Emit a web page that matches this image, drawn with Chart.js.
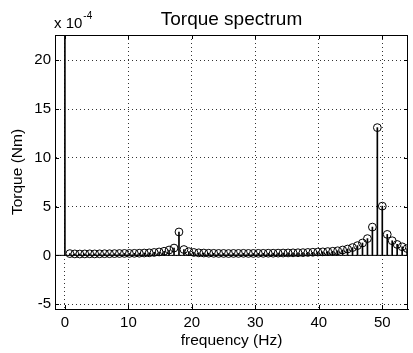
<!DOCTYPE html>
<html>
<head>
<meta charset="utf-8">
<script src="https://cdn.jsdelivr.net/npm/chart.js@4"></script>
<style>
  html, body { margin: 0; padding: 0; background: #fff; }
</style>
</head>
<body>
<canvas id="chart" width="413" height="353"></canvas>
<script>
// spectrum bins (Hz) and torque amplitude (x 1e-4 Nm)
const freqs = [
  0, 0.78, 1.56, 2.34, 3.13, 3.91, 4.69, 5.47, 6.25, 7.03,
  7.81, 8.59, 9.38, 10.16, 10.94, 11.72, 12.5, 13.28, 14.06, 14.84,
  15.63, 16.41, 17.19, 17.97, 18.75, 19.53, 20.31, 21.09, 21.88, 22.66,
  23.44, 24.22, 25, 25.78, 26.56, 27.34, 28.13, 28.91, 29.69, 30.47,
  31.25, 32.03, 32.81, 33.59, 34.38, 35.16, 35.94, 36.72, 37.5, 38.28,
  39.06, 39.84, 40.63, 41.41, 42.19, 42.97, 43.75, 44.53, 45.31, 46.09,
  46.88, 47.66, 48.44, 49.22, 50, 50.78, 51.56, 52.34, 53.13, 53.91
];
const torque = [
  60, 0.18, 0.15, 0.14, 0.15, 0.16, 0.15, 0.16, 0.17, 0.17,
  0.18, 0.19, 0.2, 0.2, 0.21, 0.22, 0.24, 0.26, 0.3, 0.35,
  0.42, 0.55, 0.75, 2.4, 0.6, 0.38, 0.3, 0.26, 0.24, 0.22,
  0.21, 0.2, 0.2, 0.19, 0.2, 0.2, 0.21, 0.2, 0.2, 0.21,
  0.21, 0.22, 0.22, 0.23, 0.24, 0.25, 0.26, 0.27, 0.28, 0.3,
  0.32, 0.34, 0.36, 0.39, 0.42, 0.47, 0.55, 0.65, 0.8, 1.0,
  1.27, 1.72, 2.9, 13.1, 5.05, 2.15, 1.5, 1.12, 0.88, 0.7
];

const xTicks = [0, 10, 20, 30, 40, 50];
const yTicks = [-5, 0, 5, 10, 15, 20];

const X_MIN = -1.56, X_MAX = 54.05;
const Y_MIN = -5.5, Y_MAX = 22.6;

const TITLE = "Torque spectrum";
const X_LABEL = "frequency (Hz)";
const Y_LABEL = "Torque (Nm)";
const EXP_BASE = "x 10";
const EXP_POW = "-4";

const FAMILY = '"Liberation Sans", Arial, Helvetica, sans-serif';

const points = freqs.map((f, i) => ({ x: f, y: torque[i] }));

// MATLAB style: box, inward ticks, title and exponent
const matlabAxes = {
  id: "matlabAxes",
  afterDraw(chart) {
    const { ctx, chartArea: ca, scales } = chart;
    ctx.save();
    ctx.strokeStyle = "#000";
    ctx.lineWidth = 1;
    ctx.beginPath();
    ctx.moveTo(ca.left, Math.round(ca.top) + 0.5);
    ctx.lineTo(ca.right, Math.round(ca.top) + 0.5);
    ctx.moveTo(Math.round(ca.right) - 0.5, ca.top);
    ctx.lineTo(Math.round(ca.right) - 0.5, ca.bottom);
    xTicks.forEach(v => {
      const px = Math.round(scales.x.getPixelForValue(v)) + 0.5;
      ctx.moveTo(px, ca.bottom); ctx.lineTo(px, ca.bottom - 4);
      ctx.moveTo(px, ca.top); ctx.lineTo(px, ca.top + 4);
    });
    yTicks.forEach(v => {
      const py = Math.round(scales.y.getPixelForValue(v)) + 0.5;
      ctx.moveTo(ca.left, py); ctx.lineTo(ca.left + 4, py);
      ctx.moveTo(ca.right, py); ctx.lineTo(ca.right - 4, py);
    });
    ctx.stroke();

    ctx.fillStyle = "#000";
    ctx.textBaseline = "alphabetic";
    ctx.font = "19px " + FAMILY;
    ctx.textAlign = "center";
    ctx.fillText(TITLE, (ca.left + ca.right) / 2, 25);

    ctx.textAlign = "left";
    ctx.font = "15px " + FAMILY;
    ctx.fillText(EXP_BASE, 54, 28);
    const w = ctx.measureText(EXP_BASE).width;
    ctx.font = "10px " + FAMILY;
    ctx.fillText(EXP_POW, 54 + w + 1, 19);
    ctx.restore();
  }
};

const tickFont = { family: FAMILY, size: 15 };
const labelFont = { family: FAMILY, size: 15.5 };
const gridStyle = { color: "rgba(0,0,0,0.8)", lineWidth: 1, drawTicks: false, offset: false };

new Chart(document.getElementById("chart"), {
  type: "scatter",
  data: {
    datasets: [
      {
        type: "scatter",
        data: points,
        pointStyle: "circle",
        pointRadius: 3.9,
        pointBorderWidth: 1,
        pointBorderColor: "#000",
        pointBackgroundColor: "rgba(0,0,0,0)"
      },
      {
        type: "bar",
        data: points,
        backgroundColor: "#000",
        barThickness: 1,
        borderWidth: 0
      },
      {
        type: "line",
        data: [{ x: X_MIN, y: 0 }, { x: X_MAX, y: 0 }],
        borderColor: "#000",
        borderWidth: 1,
        pointRadius: 0,
        showLine: true
      }
    ]
  },
  options: {
    responsive: false,
    animation: false,
    layout: { padding: { top: 35, right: 1, left: 0, bottom: 0 } },
    plugins: {
      legend: { display: false },
      tooltip: { enabled: false },
      title: { display: false }
    },
    scales: {
      x: {
        type: "linear",
        min: X_MIN,
        max: X_MAX,
        offset: false,
        afterBuildTicks: s => { s.ticks = xTicks.map(v => ({ value: v })); },
        ticks: { font: tickFont, color: "#000", padding: 5, maxRotation: 0 },
        grid: gridStyle,
        border: { display: true, color: "#000", width: 1, dash: [1, 3] },
        title: { display: true, text: X_LABEL, font: labelFont, color: "#000", padding: { top: 0, bottom: 3 } },
        afterFit: s => { s.height = 44; }
      },
      y: {
        type: "linear",
        min: Y_MIN,
        max: Y_MAX,
        afterBuildTicks: s => { s.ticks = yTicks.map(v => ({ value: v })); },
        ticks: { font: tickFont, color: "#000", padding: 4 },
        grid: gridStyle,
        border: { display: true, color: "#000", width: 1, dash: [1, 3] },
        title: { display: true, text: Y_LABEL, font: labelFont, color: "#000", padding: { top: 8, bottom: 0 } },
        afterFit: s => { s.width = 55; }
      }
    }
  },
  plugins: [matlabAxes]
});
</script>
</body>
</html>
